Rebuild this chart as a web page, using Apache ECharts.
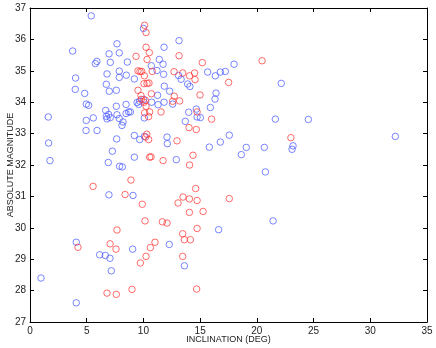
<!DOCTYPE html>
<html>
<head>
<meta charset="utf-8">
<script src="https://cdn.jsdelivr.net/npm/echarts@6/dist/echarts.min.js"></script>
<style>
  html, body { margin: 0; padding: 0; background: #fff; }
  #chart { width: 436px; height: 348px; }
</style>
</head>
<body>
<div id="chart"></div>
<script>
// inclination (deg), absolute magnitude
const bluePoints = [
  [5.4,36.75],[3.76,35.63],[7.67,35.86],[6.97,35.54],[7.87,35.57],[5.9,35.3],[5.76,35.23],
  [7.08,35.27],[8.58,35.28],[10.7,35.16],[7.87,34.99],[6.79,34.9],[8.49,34.86],[7.87,34.79],
  [9.2,34.74],[4.02,34.77],[3.99,34.41],[6.73,34.57],[6.99,34.35],[7.61,34.38],[4.82,34.28],
  [4.96,33.94],[5.17,33.9],[6.67,33.74],[7.61,33.87],[8.47,33.93],[9.44,33.99],[9.67,34.03],
  [9.58,33.93],[10.02,34.09],[1.61,33.53],[8.47,33.64],[8.7,33.69],[7.67,33.6],[6.73,33.55],
  [6.93,33.61],[7.08,33.51],[6.79,33.47],[4.96,33.42],[5.58,33.5],[4.94,33.1],[5.91,33.1],
  [7.87,33.48],[8.2,33.37],[8.11,33.26],[7.64,32.83],[9.2,32.94],[9.67,32.81],[10.08,32.91],
  [7.26,32.44],[6.9,32.08],[1.76,32.14],[1.64,32.7],[7.9,31.96],[8.14,31.94],[9.2,32.25],
  [6.96,31.05],[9.08,31.03],[10.08,33.5],[0.97,28.4],[4.08,29.54],[4.08,27.61],[6.14,29.14],
  [6.64,29.12],[7.05,29.03],[7.17,28.63],[9.05,29.32],[16.63,29.94],[12.28,29.47],[13.61,28.79],
  [21.43,30.22],[13.99,33.68],[14.73,33.53],[15.02,33.51],[13.69,33.39],[21.63,33.46],
  [12.08,32.89],[12.11,32.68],[15.81,32.57],[16.78,32.73],[17.57,32.95],[19.07,32.56],
  [18.63,32.33],[20.66,32.56],[20.75,31.78],[12.9,32.17],[24.54,33.45],[23.19,32.61],
  [23.1,32.5],[32.21,32.91],[22.15,34.6],[10.0,36.35],[11.82,35.75],[13.14,35.96],[11.4,35.36],
  [11.73,35.21],[11.2,35.01],[11.78,34.89],[13.1,34.85],[13.32,34.73],[17.99,35.21],[15.66,34.96],
  [16.34,34.84],[16.78,34.96],[17.22,34.98],[11.84,34.51],[12.31,34.35],[13.9,34.58],[14.1,34.5],
  [11.25,34.22],[16.4,34.29],[16.31,34.1],[12.58,33.94],[11.82,34.0],[11.29,33.92],[10.73,34.0],
  [8.85,33.69],[14.66,33.78],[15.9,33.83]
];
const redPoints = [
  [9.35,35.46],[10.1,36.45],[10.23,36.22],[10.23,35.75],[10.32,35.36],[9.52,35.0],[9.7,34.98],
  [9.85,34.98],[10.08,34.84],[10.05,34.59],[10.32,34.6],[9.52,34.38],[9.79,34.21],[10.23,33.87],
  [10.2,32.89],[10.3,32.98],[10.46,32.81],[10.55,32.25],[8.9,31.52],[5.56,31.32],[8.38,31.06],
  [9.9,30.75],[10.14,30.22],[7.67,29.93],[10.11,33.66],[10.46,33.54],[10.55,33.69],[9.81,34.09],
  [10.17,34.06],[10.05,34.0],[4.23,29.38],[7.06,29.49],[7.58,29.32],[6.79,27.92],[7.61,27.88],
  [8.99,28.04],[9.73,28.88],[10.23,29.09],[10.61,29.37],[11.67,30.19],[12.08,30.15],[14.73,29.98],
  [13.46,29.81],[13.61,29.62],[14.14,29.62],[11.02,29.54],[13.46,29.09],[14.69,28.05],
  [11.55,33.69],[14.73,33.69],[16.01,33.46],[14.02,33.19],[14.66,33.13],[12.96,32.77],
  [10.67,32.26],[11.73,32.14],[14.37,32.31],[14.07,32.0],[14.6,31.25],[13.49,30.98],[14.05,30.92],
  [14.73,30.87],[13.05,30.79],[17.57,30.93],[15.26,30.52],[14.05,30.49],[23.0,32.87],
  [10.52,35.58],[13.14,35.48],[10.78,34.98],[12.7,34.97],[13.46,34.93],[14.07,34.84],
  [14.51,34.93],[14.55,34.72],[15.19,35.26],[20.46,35.32],[17.51,34.63],[10.49,34.61],
  [10.7,34.27],[12.72,34.19],[14.99,34.23],[13.19,34.04],[12.58,34.03]
];
const xRange = [0, 35, 5];
const yRange = [27, 37, 1];
const xTitle = 'INCLINATION (DEG)';
const yTitle = 'ABSOLUTE MAGNITUDE';

const chart = echarts.init(document.getElementById('chart'));
const font = 'Liberation Sans, Arial, Helvetica, sans-serif';
const axisLine = { show: true, onZero: false, lineStyle: { color: '#000', width: 1 } };
const tick = { show: true, inside: true, length: 4, lineStyle: { color: '#000' } };

const option = {
  animation: false,
  backgroundColor: '#fff',
  grid: { left: 30, right: 9, top: 8, bottom: 26, containLabel: false, outerBoundsMode: 'none' },
  xAxis: [
    {
      type: 'value', min: xRange[0], max: xRange[1], interval: xRange[2],
      name: xTitle, nameLocation: 'middle', nameGap: 13, nameMoveOverlap: false,
      nameTextStyle: { fontFamily: font, fontSize: 9, color: '#222' },
      axisLine: axisLine, axisTick: tick, splitLine: { show: false },
      axisLabel: { fontFamily: font, fontSize: 10, color: '#222', margin: 4 }
    },
    {
      type: 'value', position: 'top', min: xRange[0], max: xRange[1], interval: xRange[2],
      axisLine: axisLine, axisTick: tick, splitLine: { show: false },
      axisLabel: { show: false }
    }
  ],
  yAxis: [
    {
      type: 'value', min: yRange[0], max: yRange[1], interval: yRange[2],
      name: yTitle, nameLocation: 'middle', nameGap: 15, nameRotate: 90, nameMoveOverlap: false,
      nameTextStyle: { fontFamily: font, fontSize: 9, color: '#222' },
      axisLine: axisLine, axisTick: tick, splitLine: { show: false },
      axisLabel: { fontFamily: font, fontSize: 10, color: '#222', margin: 4 }
    },
    {
      type: 'value', position: 'right', min: yRange[0], max: yRange[1], interval: yRange[2],
      axisLine: axisLine, axisTick: tick, splitLine: { show: false },
      axisLabel: { show: false }
    }
  ],
  series: [
    {
      name: 'blue', type: 'scatter', xAxisIndex: 0, yAxisIndex: 0,
      symbol: 'circle', symbolSize: 6.5,
      itemStyle: { color: 'rgba(0,0,0,0)', borderColor: '#4656ff', borderWidth: 0.9 },
      data: bluePoints
    },
    {
      name: 'red', type: 'scatter', xAxisIndex: 0, yAxisIndex: 0,
      symbol: 'circle', symbolSize: 6.5,
      itemStyle: { color: 'rgba(0,0,0,0)', borderColor: '#ff3232', borderWidth: 0.9 },
      data: redPoints
    }
  ]
};
chart.setOption(option);
</script>
</body>
</html>
